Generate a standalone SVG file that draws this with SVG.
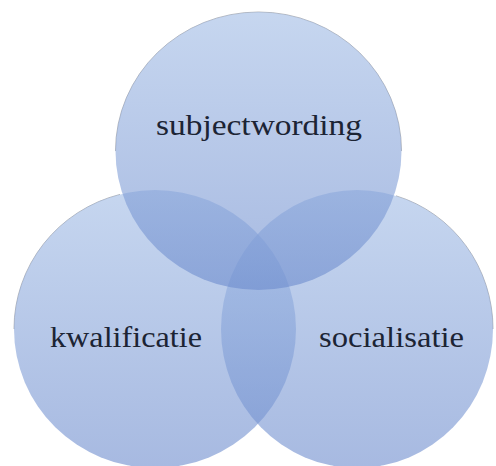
<svg xmlns="http://www.w3.org/2000/svg" width="496" height="466" viewBox="0 0 496 466">
  <defs>
    <linearGradient id="g" x1="0" y1="0" x2="0" y2="1">
      <stop offset="0" stop-color="#a0bbe5"/>
      <stop offset="1" stop-color="#6c8bcd"/>
    </linearGradient>
    <style>
      .c { fill: url(#g); fill-opacity: 0.6; }
      .edge { fill: none; stroke: #6b6f78; stroke-width: 0.9; stroke-opacity: 0.55; }
      .t { font-family: "Liberation Serif", "DejaVu Serif", serif; font-size: 29px; fill: #1c2434; text-anchor: middle; }
    </style>
  </defs>
  <rect width="496" height="466" fill="#ffffff"/>
  <g id="connectors">
    <path class="edge" d="M 120 194.4 A 141 139 0 0 0 14 329"/>
    <path class="edge" d="M 396 195.8 A 136 139 0 0 1 493 329"/>
    <path class="edge" d="M 115.5 151 A 143 139 0 0 1 401.5 151"/>
  </g>
  <g id="kwalificatie">
    <ellipse class="c" cx="155" cy="329" rx="141" ry="139"/>
  </g>
  <g id="socialisatie">
    <ellipse class="c" cx="357" cy="329" rx="136" ry="139"/>
  </g>
  <g id="subjectwording">
    <ellipse class="c" cx="258.5" cy="151" rx="143" ry="139"/>
  </g>
  <g id="labels">
    <text class="t" x="259" y="135" textLength="206" lengthAdjust="spacingAndGlyphs">subjectwording</text>
    <text class="t" x="126" y="347" textLength="152" lengthAdjust="spacingAndGlyphs">kwalificatie</text>
    <text class="t" x="391.5" y="347" textLength="145" lengthAdjust="spacingAndGlyphs">socialisatie</text>
  </g>
</svg>
